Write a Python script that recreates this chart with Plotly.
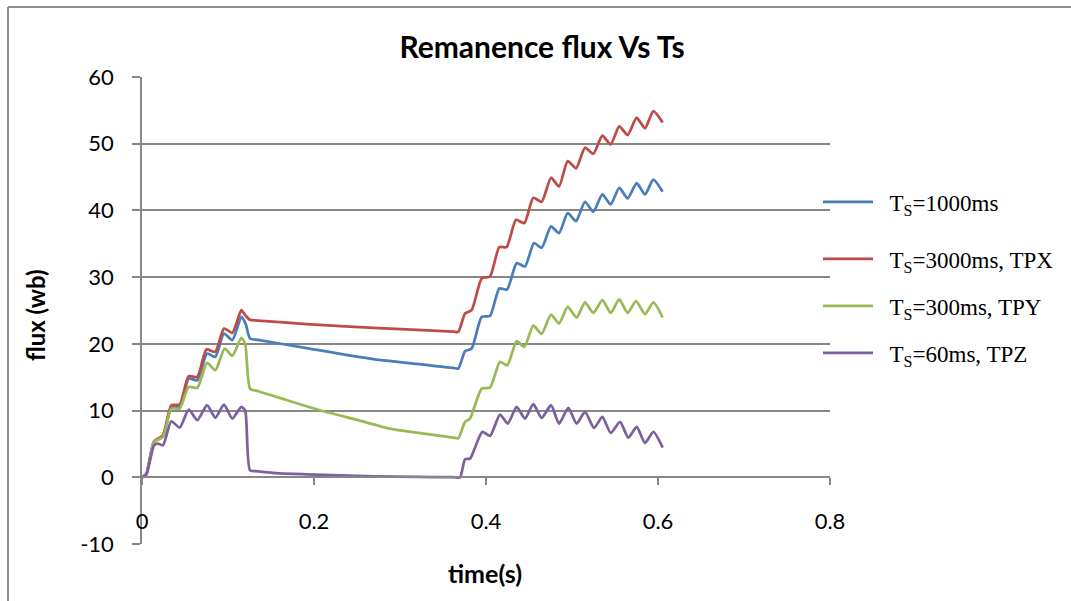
import plotly.graph_objects as go

# ---- data ----
t_red = [0, 0.005, 0.014, 0.0244, 0.0341, 0.0438, 0.0543, 0.0643, 0.0748, 0.0853, 0.0953, 0.105, 0.1155, 0.1200, 0.1256,
         0.135, 0.1915, 0.269, 0.3620, 0.3678, 0.3756, 0.3833, 0.395, 0.4047, 0.4155, 0.424, 0.4349, 0.4446, 0.455,
         0.4647, 0.4756, 0.4849, 0.495, 0.5047, 0.5151, 0.5248, 0.5353, 0.545, 0.555, 0.5647, 0.5752, 0.5849,
         0.5946, 0.6054]
y_red = [0, 0.5, 5.4, 6.3, 10.8, 10.9, 15.15, 15.05, 19.15, 18.8, 22.3, 21.65, 25.05, 24.3, 23.6,
         23.5, 22.95, 22.4, 21.85, 21.8, 24.55, 25.05, 29.8, 30.1, 34.5, 34.5, 38.6, 38.1, 41.9,
         41.3, 44.9, 43.6, 47.4, 46.3, 49.4, 48.5, 51.2, 49.9, 52.6, 51.3, 53.9, 52.3,
         54.9, 53.2]

t_blue = [0, 0.005, 0.014, 0.0244, 0.0341, 0.0438, 0.0543, 0.0643, 0.0756, 0.0853, 0.0953, 0.105, 0.1155, 0.1205, 0.1256,
          0.135, 0.1915, 0.269, 0.3620, 0.3678, 0.3756, 0.3833, 0.395, 0.4047, 0.4155, 0.4245, 0.4357, 0.4453, 0.4558,
          0.4647, 0.4756, 0.4849, 0.495, 0.5047, 0.5151, 0.5248, 0.5353, 0.545, 0.555, 0.5647, 0.5752, 0.5849,
          0.5946, 0.6054]
y_blue = [0, 0.5, 5.3, 6.15, 10.55, 10.55, 14.8, 14.55, 18.55, 18.05, 21.55, 20.55, 24.05, 23.0, 20.8,
          20.6, 19.35, 17.7, 16.4, 16.3, 18.9, 19.3, 24.05, 24.2, 28.3, 28.15, 32.1, 31.6, 35.1,
          34.4, 37.6, 36.6, 39.6, 38.4, 41.3, 39.8, 42.4, 40.9, 43.4, 41.8, 44.1, 42.4,
          44.6, 42.8]

t_green = [0, 0.005, 0.014, 0.0244, 0.0341, 0.0438, 0.0543, 0.0643, 0.0756, 0.0853, 0.0961, 0.105, 0.1155, 0.120, 0.1256,
           0.135, 0.16, 0.207, 0.25, 0.288, 0.330, 0.3620, 0.3678, 0.3756, 0.3814, 0.395, 0.4047, 0.4163, 0.4248, 0.4357,
           0.4446, 0.455, 0.4647, 0.4756, 0.4849, 0.495, 0.5054, 0.5151, 0.5248, 0.5353, 0.545, 0.555, 0.5647, 0.5744,
           0.5849, 0.5946, 0.6054]
y_green = [0, 0.5, 5.3, 6.05, 10.3, 10.3, 13.55, 13.4, 17.15, 16.05, 19.3, 18.2, 20.9, 20.0, 13.3,
           12.9, 11.9, 10.04, 8.6, 7.3, 6.5, 5.95, 5.85, 8.3, 8.8, 13.3, 13.45, 17.3, 16.8, 20.4,
           19.55, 22.75, 21.5, 24.4, 23.05, 25.55, 23.95, 26.2, 24.65, 26.55, 24.65, 26.65, 24.65, 26.4,
           24.45, 26.2, 23.95]

t_purple = [0, 0.005, 0.014, 0.0186, 0.0244, 0.0341, 0.0438, 0.0543, 0.0643, 0.0756, 0.0853, 0.0953, 0.105, 0.1155,
            0.120, 0.1256, 0.135, 0.16, 0.1915, 0.23, 0.269, 0.32, 0.3620, 0.3698, 0.3756, 0.3814, 0.3957, 0.4047,
            0.4163, 0.4252, 0.4357, 0.4453, 0.455, 0.4647, 0.4756, 0.4849, 0.4957, 0.5054, 0.5151, 0.5256, 0.5353,
            0.545, 0.5558, 0.5655, 0.5752, 0.5849, 0.5946, 0.6054]
y_purple = [0, 0.4, 4.8, 5.05, 4.8, 8.4, 7.45, 10.15, 8.55, 10.8, 8.95, 10.9, 8.8, 10.55,
            10.0, 1.05, 0.9, 0.6, 0.45, 0.3, 0.15, 0.05, 0.02, 0.0, 2.7, 2.8, 6.8, 6.2,
            9.4, 8.05, 10.55, 8.8, 10.95, 8.9, 10.8, 8.05, 10.4, 8.05, 9.8, 7.4, 9.05,
            6.65, 8.3, 5.95, 7.55, 5.15, 6.8, 4.45]

names = ["\u00a0\u00a0T<sub>S</sub>=1000ms", "\u00a0\u00a0T<sub>S</sub>=3000ms, TPX",
         "\u00a0\u00a0T<sub>S</sub>=300ms, TPY", "\u00a0\u00a0T<sub>S</sub>=60ms, TPZ"]
colors = ["#4A7EBB", "#BE4B48", "#98B954", "#7D60A0"]

x_ticks = [0, 0.2, 0.4, 0.6, 0.8]
x_labels = ["0", "0.2", "0.4", "0.6", "0.8"]
y_ticks = [-10, 0, 10, 20, 30, 40, 50, 60]
y_labels = ["-10", "0", "10", "20", "30", "40", "50", "60"]

W, H = 1071, 601
L, R, T, B = 142, 241, 77, 57
pw, ph = W - L - R, H - T - B

def px(xp):
    return (xp - L) / pw

def py(yp):
    return (H - B - yp) / ph

series = [(t_blue, y_blue), (t_red, y_red), (t_green, y_green), (t_purple, y_purple)]
legends = ["legend", "legend2", "legend2", "legend2"]
groups = ["a", "b", "c", "d"]

fig = go.Figure()
for (tx, ty), nm, c, lg, gp in zip(series, names, colors, legends, groups):
    fig.add_trace(go.Scatter(
        x=tx, y=ty, name=nm, mode="lines", showlegend=True,
        line=dict(color=c, width=2.75, shape="spline", smoothing=0.6),
        legend=lg, legendgroup=gp,
    ))

grid = "#878787"
sans = "Lato, Open Sans, sans-serif"
tickfont = dict(family=sans, size=22, color="#000")
legfont = dict(family="Liberation Serif, serif", size=23, color="#000")

fig.update_layout(
    width=W, height=H,
    margin=dict(l=L, r=R, t=T, b=B),
    paper_bgcolor="white", plot_bgcolor="white",
    title=dict(text="<b>Remanence flux Vs Ts</b>", x=542 / W, xref="container", xanchor="center",
               y=1 - 47 / H, yref="container", yanchor="middle",
               font=dict(family=sans, size=30, color="#000")),
    xaxis=dict(range=[0, 0.8], tickvals=x_ticks, ticktext=x_labels,
               showgrid=False, zeroline=False, showline=True, linecolor=grid, linewidth=1.5,
               ticks="outside", ticklen=7, tickcolor=grid, tickwidth=1.5,
               anchor="free", position=10 / 70, tickfont=tickfont, ticklabelstandoff=18),
    yaxis=dict(range=[-10, 60], tickvals=y_ticks, ticktext=y_labels, showgrid=True, gridcolor=grid, gridwidth=1.5,
               zeroline=False, showline=True, linecolor=grid, linewidth=1.5,
               ticks="outside", ticklen=8, tickcolor=grid, tickwidth=1.5,
               tickfont=tickfont, ticklabelstandoff=14),
    legend=dict(x=px(818), y=py(202), xanchor="left", yanchor="middle", font=legfont,
                bgcolor="rgba(0,0,0,0)", itemwidth=50),
    legend2=dict(x=px(818), y=py(306), xanchor="left", yanchor="middle", font=legfont,
                 bgcolor="rgba(0,0,0,0)", itemwidth=50, tracegroupgap=14),
    annotations=[
        dict(text="<b>flux (wb)</b>", x=px(35), y=py(315), xref="paper", yref="paper",
             xanchor="center", yanchor="middle",
             showarrow=False, textangle=-90, font=dict(family=sans, size=24, color="#000")),
        dict(text="<b>time(s)</b>", x=px(485), y=py(573), xref="paper", yref="paper",
             xanchor="center", yanchor="middle",
             showarrow=False, font=dict(family=sans, size=25, color="#000")),
    ],
    shapes=[
        dict(type="line", xref="paper", yref="paper", x0=px(8), x1=px(8), y0=py(7), y1=py(H + 5),
             line=dict(color="#8f8f8f", width=2)),
        dict(type="line", xref="paper", yref="paper", x0=px(8), x1=px(W + 5), y0=py(7), y1=py(7),
             line=dict(color="#8f8f8f", width=2)),
    ],
)

fig.write_html("out.html")
